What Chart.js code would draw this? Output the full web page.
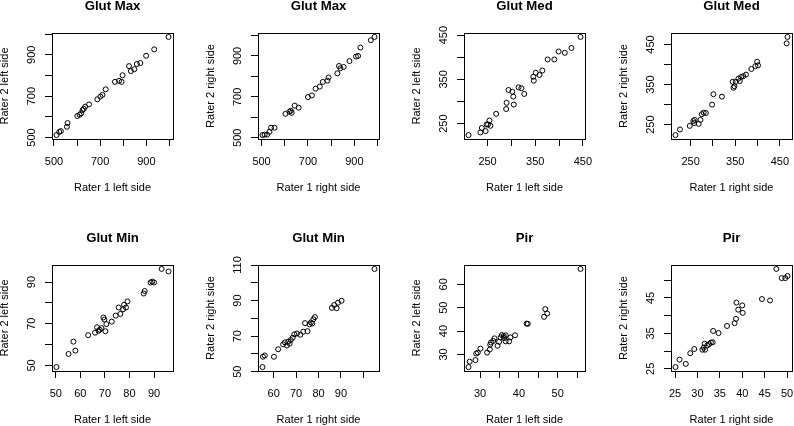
<!DOCTYPE html>
<html>
<head>
<meta charset="utf-8">
<script src="https://cdn.jsdelivr.net/npm/chart.js@4.4.0/dist/chart.umd.min.js"></script>
<style>
  html, body { margin: 0; padding: 0; background: #fff; }
  #wrap { position: relative; width: 794px; height: 426px; overflow: hidden; }
  #wrap canvas { position: absolute; }
</style>
</head>
<body>
<div id="wrap"></div>
<script>
// values, rater 1 (x) vs rater 2 (y)
const glutMaxLeftR1 = [511, 523, 530, 556, 559, 601, 611, 618, 624, 629, 635, 652, 688, 701, 710, 724, 764, 782, 793, 797, 825, 833, 848, 859, 874, 899, 934, 996]
const glutMaxLeftR2 = [512, 527, 531, 552, 570, 604, 610, 617, 633, 639, 649, 660, 685, 698, 706, 733, 769, 774, 769, 801, 845, 821, 830, 855, 860, 895, 926, 986]

const glutMaxRightR1 = [504, 513, 524, 534, 541, 556, 603, 620, 626, 630, 643, 660, 700, 717, 733, 751, 764, 784, 789, 827, 834, 840, 854, 879, 907, 916, 926, 971, 987]
const glutMaxRightR2 = [513, 515, 515, 529, 549, 549, 617, 627, 632, 622, 657, 647, 699, 707, 740, 750, 773, 779, 795, 815, 851, 840, 846, 875, 897, 900, 941, 977, 993]

const glutMedLeftR1 = [210, 235, 238, 246, 248, 251, 254, 256, 268, 289, 290, 294, 302, 304, 305, 315, 321, 327, 346, 347, 351, 359, 365, 376, 390, 399, 412, 426, 445]
const glutMedLeftR2 = [224, 230, 240, 233, 248, 248, 257, 245, 272, 283, 297, 326, 322, 311, 293, 332, 330, 317, 356, 347, 365, 360, 370, 395, 395, 413, 410, 421, 446]

const glutMedRightR1 = [216, 226, 248, 256, 259, 258, 268, 272, 275, 279, 284, 298, 301, 320, 344, 346, 348, 351, 357, 360, 363, 368, 374, 386, 395, 399, 401, 465, 467]
const glutMedRightR2 = [224, 238, 247, 259, 262, 254, 252, 262, 276, 280, 279, 300, 326, 320, 357, 342, 346, 357, 365, 359, 369, 371, 375, 389, 396, 407, 398, 453, 469]

const glutMinLeftR1 = [50.3, 55.2, 57.2, 58, 63.2, 66, 66.8, 67.4, 67.9, 68.6, 69.4, 69.8, 70.2, 70.6, 72.8, 74.4, 75.6, 76.3, 77.4, 77.8, 78.6, 79.2, 85.8, 86.2, 88.6, 89.3, 90, 93.1, 95.9]
const glutMinLeftR2 = [49.2, 55.5, 61.4, 57.1, 64.5, 65.7, 68.3, 66.6, 67.1, 67.9, 73, 72, 66.4, 69.8, 71, 73.9, 77.8, 74.7, 76.9, 79.1, 77.8, 80.7, 84.5, 85.7, 89.8, 90.2, 89.8, 96.3, 95.1]

const glutMinRightR1 = [55, 55.2, 56, 60.1, 62, 64.2, 65, 65.9, 66.5, 67.1, 67.6, 68.5, 69.2, 70.4, 71.9, 73.2, 74, 75.1, 76, 76.6, 77.2, 77.7, 78.4, 86, 87, 88.1, 88.7, 90.3, 105]
const glutMinRightR2 = [52.6, 58.4, 59.1, 58.4, 62.6, 65.4, 66.5, 64.7, 66.9, 65.8, 67.8, 69.1, 71, 71.5, 70.8, 72.5, 77.3, 72.8, 76.6, 77.7, 77.1, 79.5, 80.7, 85.9, 87.5, 85.7, 88.8, 89.9, 107.8]

const pirLeftR1 = [27, 27.3, 28.8, 29, 29.4, 30.1, 31.8, 32.5, 32.6, 32.8, 33.4, 33.7, 34.5, 34.9, 35.3, 35.6, 36.1, 36.2, 36.6, 36.6, 37.5, 37.8, 39, 42, 42.3, 46.5, 46.8, 47.3, 55.9]
const pirLeftR2 = [24.6, 26.9, 27.6, 30.4, 30.8, 32.5, 30.8, 32.1, 34.2, 35.1, 35.8, 36.9, 33.7, 35.4, 37.3, 38.3, 37.9, 37, 38.2, 35.6, 35.6, 37.3, 38.2, 43.2, 43.1, 46.1, 49.4, 47.5, 66.6]

const pirRightR1 = [25.1, 26, 27.4, 28.4, 29.3, 31.1, 31.4, 31.6, 31.7, 32.2, 32.6, 33, 33.4, 33.5, 34.7, 36.6, 38.3, 38.6, 38.7, 39.1, 40, 40.1, 44.4, 46.2, 47.6, 48.8, 49.6, 50.1]
const pirRightR2 = [25.5, 27.6, 26.4, 29.4, 30.6, 30.4, 31, 32.1, 30.4, 31.6, 32, 32.4, 32.5, 35.7, 35.1, 37.1, 37.9, 39.1, 43.7, 41.7, 42.9, 40.8, 44.7, 44.3, 53.2, 50.6, 50.6, 51.2]

// ticks and which of them get a label
const glutMaxTicks = [500, 600, 700, 800, 900, 1000]
const glutMaxLabels = [500, 700, 900]
const glutMedTicks = [250, 300, 350, 400, 450]
const glutMedLabels = [250, 350, 450]
const glutMinLeftXTicks = [50, 60, 70, 80, 90]
const glutMinLeftXLabels = [50, 60, 70, 80, 90]
const glutMinLeftYTicks = [50, 60, 70, 80, 90]
const glutMinLeftYLabels = [50, 70, 90]
const glutMinRightXTicks = [60, 70, 80, 90, 100]
const glutMinRightXLabels = [60, 70, 80, 90]
const glutMinRightYTicks = [50, 60, 70, 80, 90, 100, 110]
const glutMinRightYLabels = [50, 70, 90, 110]
const pirLeftXTicks = [30, 35, 40, 45, 50, 55]
const pirLeftXLabels = [30, 40, 50]
const pirLeftYTicks = [30, 40, 50, 60]
const pirLeftYLabels = [30, 40, 50, 60]
const pirRightTicks = [25, 30, 35, 40, 45, 50]
const pirRightYLabels = [25, 35, 45]

const panels = [
  {title: 'Glut Max', xt: 'Rater 1 left side', yt: 'Rater 2 left side', xs: glutMaxLeftR1, ys: glutMaxLeftR2, xTicks: glutMaxTicks, xLabels: glutMaxLabels, yTicks: glutMaxTicks, yLabels: glutMaxLabels},
  {title: 'Glut Max', xt: 'Rater 1 right side', yt: 'Rater 2 right side', xs: glutMaxRightR1, ys: glutMaxRightR2, xTicks: glutMaxTicks, xLabels: glutMaxLabels, yTicks: glutMaxTicks, yLabels: glutMaxLabels},
  {title: 'Glut Med', xt: 'Rater 1 left side', yt: 'Rater 2 left side', xs: glutMedLeftR1, ys: glutMedLeftR2, xTicks: glutMedTicks, xLabels: glutMedLabels, yTicks: glutMedTicks, yLabels: glutMedLabels},
  {title: 'Glut Med', xt: 'Rater 1 right side', yt: 'Rater 2 right side', xs: glutMedRightR1, ys: glutMedRightR2, xTicks: glutMedTicks, xLabels: glutMedLabels, yTicks: glutMedTicks, yLabels: glutMedLabels},
  {title: 'Glut Min', xt: 'Rater 1 left side', yt: 'Rater 2 left side', xs: glutMinLeftR1, ys: glutMinLeftR2, xTicks: glutMinLeftXTicks, xLabels: glutMinLeftXLabels, yTicks: glutMinLeftYTicks, yLabels: glutMinLeftYLabels},
  {title: 'Glut Min', xt: 'Rater 1 right side', yt: 'Rater 2 right side', xs: glutMinRightR1, ys: glutMinRightR2, xTicks: glutMinRightXTicks, xLabels: glutMinRightXLabels, yTicks: glutMinRightYTicks, yLabels: glutMinRightYLabels},
  {title: 'Pir', xt: 'Rater 1 left side', yt: 'Rater 2 left side', xs: pirLeftR1, ys: pirLeftR2, xTicks: pirLeftXTicks, xLabels: pirLeftXLabels, yTicks: pirLeftYTicks, yLabels: pirLeftYLabels},
  {title: 'Pir', xt: 'Rater 1 right side', yt: 'Rater 2 right side', xs: pirRightR1, ys: pirRightR2, xTicks: pirRightTicks, xLabels: pirRightTicks, yTicks: pirRightTicks, yLabels: pirRightYLabels}
]

Chart.defaults.font.family = '"Liberation Sans", Arial, sans-serif'
Chart.defaults.color = '#000'

const colLeft = [0, 206, 412, 619]
const wrap = document.getElementById('wrap')
const measure = document.createElement('canvas').getContext('2d')
measure.font = '11px "Liberation Sans"'

// R style range: data range stretched 4% on each side
const limits = (v) => {
  const lo = Math.min(...v), hi = Math.max(...v)
  const pad = (hi - lo) * 0.04
  return [lo - pad, hi + pad]
}

panels.forEach((p, i) => {
  const cv = document.createElement('canvas')
  cv.width = 206
  cv.height = 232
  cv.style.left = colLeft[i % 4] + 'px'
  cv.style.top = Math.floor(i / 4) * 232 + 'px'
  wrap.appendChild(cv)

  const [xMin, xMax] = limits(p.xs)
  const [yMin, yMax] = limits(p.ys)
  const widest = Math.max(...p.yLabels.map(v => measure.measureText(String(v)).width))

  new Chart(cv, {
    type: 'scatter',
    data: {
      datasets: [{
        data: p.xs.map((x, k) => ({x: x, y: p.ys[k]})),
        pointStyle: 'circle',
        pointRadius: 2.5,
        pointBorderWidth: 1,
        borderColor: '#000',
        backgroundColor: 'rgba(0,0,0,0)'
      }]
    },
    options: {
      responsive: false,
      animation: false,
      layout: {padding: 0, autoPadding: false},
      plugins: {legend: {display: false}, tooltip: {enabled: false}},
      scales: {
        x: {
          type: 'linear', position: 'bottom', min: xMin, max: xMax,
          afterBuildTicks: s => { s.ticks = p.xTicks.map(v => ({value: v})) },
          afterFit: s => { s.height = 93 },
          grid: {drawOnChartArea: false, drawTicks: true, tickLength: 7, color: '#000'},
          border: {display: true, color: '#000', width: 1},
          ticks: {autoSkip: false, minRotation: 0, maxRotation: 0, padding: 9, font: {size: 11},
            callback: v => p.xLabels.includes(v) ? String(v) : ''},
          title: {display: true, text: p.xt, font: {size: 11, lineHeight: 1}, padding: {top: 0, bottom: 38.9}}
        },
        y: {
          type: 'linear', position: 'left', min: yMin, max: yMax,
          afterBuildTicks: s => { s.ticks = p.yTicks.map(v => ({value: v})) },
          afterFit: s => { s.width = 52 },
          grid: {drawOnChartArea: false, drawTicks: true, tickLength: 7, color: '#000'},
          border: {display: true, color: '#000', width: 1},
          ticks: {autoSkip: false, minRotation: 90, maxRotation: 90, crossAlign: 'center',
            padding: 13 - widest / 2, font: {size: 11},
            callback: v => p.yLabels.includes(v) ? String(v) : ''},
          title: {display: true, text: p.yt, font: {size: 11, lineHeight: 1}, padding: {top: -0.8, bottom: 0}}
        },
        xTop: {
          type: 'linear', position: 'top', min: 0, max: 1,
          afterFit: s => { s.height = 33 },
          grid: {display: false},
          ticks: {display: false},
          border: {display: true, color: '#000', width: 1},
          title: {display: true, text: p.title, font: {size: 13.2, weight: 'bold', lineHeight: 1}, padding: {top: -0.3, bottom: 0}}
        },
        yRight: {
          type: 'linear', position: 'right', min: 0, max: 1,
          afterFit: s => { s.width = 33 },
          grid: {display: false},
          ticks: {display: false},
          border: {display: true, color: '#000', width: 1}
        }
      }
    }
  })
})
</script>
</body>
</html>
